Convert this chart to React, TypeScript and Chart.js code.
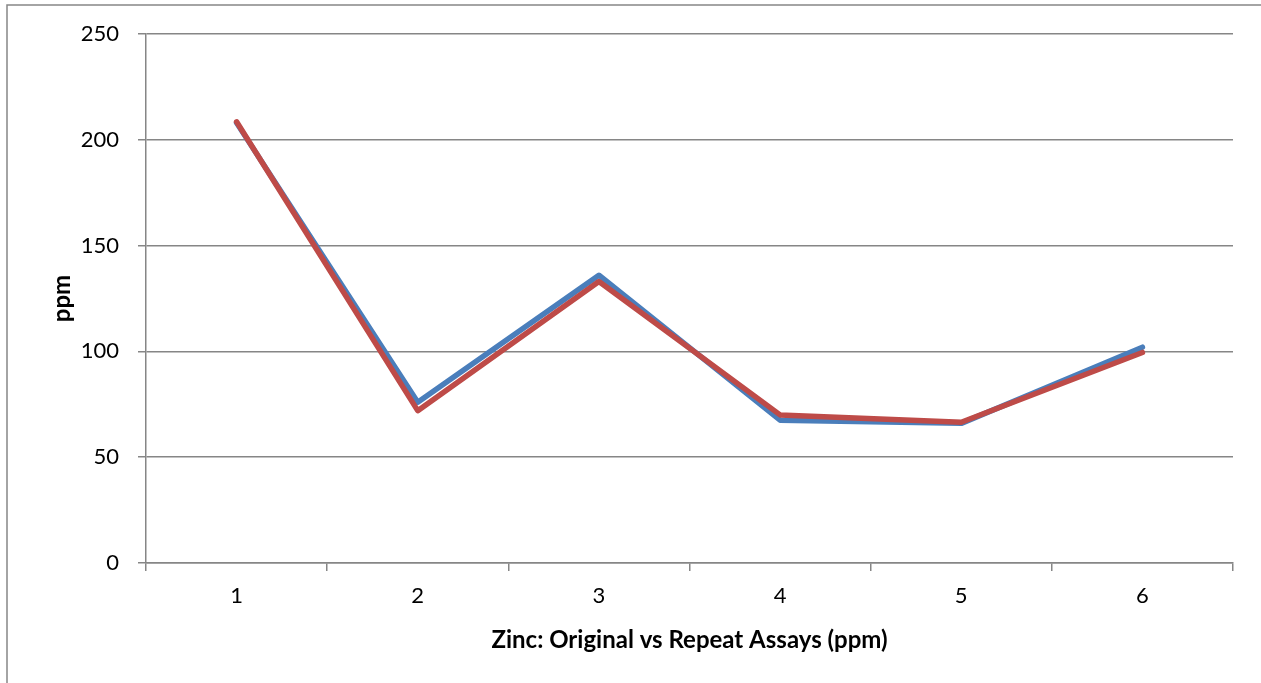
import React, { useEffect, useRef } from "react";
import { Chart, registerables } from "chart.js";

Chart.register(...registerables);

const categories = ["1", "2", "3", "4", "5", "6"];
const originalValues = [208, 76, 136, 67.5, 66, 102];
const repeatValues = [208.5, 72, 133, 70, 66.5, 99.5];
const yTicks = [0, 50, 100, 150, 200, 250];
const xTitle = "Zinc: Original vs Repeat Assays (ppm)";
const yTitle = "ppm";

const W = 1261;
const H = 683;
const GRID = "#868686";
const FONT = "Lato, 'Open Sans', sans-serif";

const frame = {
  id: "frame",
  beforeDraw(chart: any) {
    const ctx = chart.ctx;
    ctx.save();
    ctx.fillStyle = "#ffffff";
    ctx.fillRect(0, 0, W, H);
    ctx.strokeStyle = GRID;
    ctx.lineWidth = 1.5;
    ctx.beginPath();
    ctx.moveTo(7, H + 10);
    ctx.lineTo(7, 5);
    ctx.lineTo(W + 10, 5);
    ctx.stroke();
    ctx.restore();
  },
};

export default function App() {
  const ref = useRef<HTMLCanvasElement>(null);
  useEffect(() => {
    if (!ref.current) return;
    const chart = new Chart(ref.current, {
      type: "line",
      data: {
        labels: categories,
        datasets: [
          {
            label: "Original",
            data: originalValues,
            borderColor: "#4A7EBB",
            backgroundColor: "#4A7EBB",
            borderWidth: 5.5,
            pointRadius: 0,
            borderCapStyle: "round",
            borderJoinStyle: "round",
            tension: 0,
            order: 2,
          },
          {
            label: "Repeat",
            data: repeatValues,
            borderColor: "#BE4B48",
            backgroundColor: "#BE4B48",
            borderWidth: 5.5,
            pointRadius: 0,
            borderCapStyle: "round",
            borderJoinStyle: "round",
            tension: 0,
            order: 1,
          },
        ],
      },
      options: {
        responsive: false,
        animation: false,
        layout: { padding: { left: 0, top: 34, right: 28, bottom: 0 } },
        plugins: { legend: { display: false }, tooltip: { enabled: false } },
        scales: {
          x: {
            type: "category",
            offset: true,
            afterFit: (s: any) => {
              s.height = H - 563;
            },
            grid: {
              offset: true,
              drawOnChartArea: false,
              drawTicks: true,
              tickLength: 8,
              color: GRID,
              lineWidth: 1.5,
            },
            border: { display: true, color: GRID, width: 1.5 },
            ticks: {
              color: "#000",
              font: { family: FONT, size: 22 },
              padding: 12,
              maxRotation: 0,
            },
            title: {
              display: true,
              text: xTitle,
              color: "#000",
              font: { family: FONT, size: 24, weight: "bold" },
              padding: { top: 0, bottom: 28.6 },
            },
          },
          y: {
            min: 0,
            max: 250,
            afterFit: (s: any) => {
              s.width = 146;
            },
            afterBuildTicks: (s: any) => {
              s.ticks = yTicks.map((v) => ({ value: v }));
            },
            grid: {
              drawTicks: true,
              tickLength: 8,
              color: GRID,
              lineWidth: 1.5,
            },
            border: { display: true, color: GRID, width: 1.5 },
            ticks: {
              color: "#000",
              font: { family: FONT, size: 22 },
              padding: 19,
            },
            title: {
              display: true,
              text: yTitle,
              color: "#000",
              font: { family: FONT, size: 24, weight: "bold" },
              padding: { top: 47.6, bottom: 0 },
            },
          },
        },
      },
      plugins: [frame],
    } as any);
    return () => chart.destroy();
  }, []);
  return (
    <div style={{ position: "absolute", left: 0, top: 0, width: W, height: H, background: "#fff" }}>
      <canvas ref={ref} width={W} height={H} style={{ width: W, height: H, display: "block" }} />
    </div>
  );
}
